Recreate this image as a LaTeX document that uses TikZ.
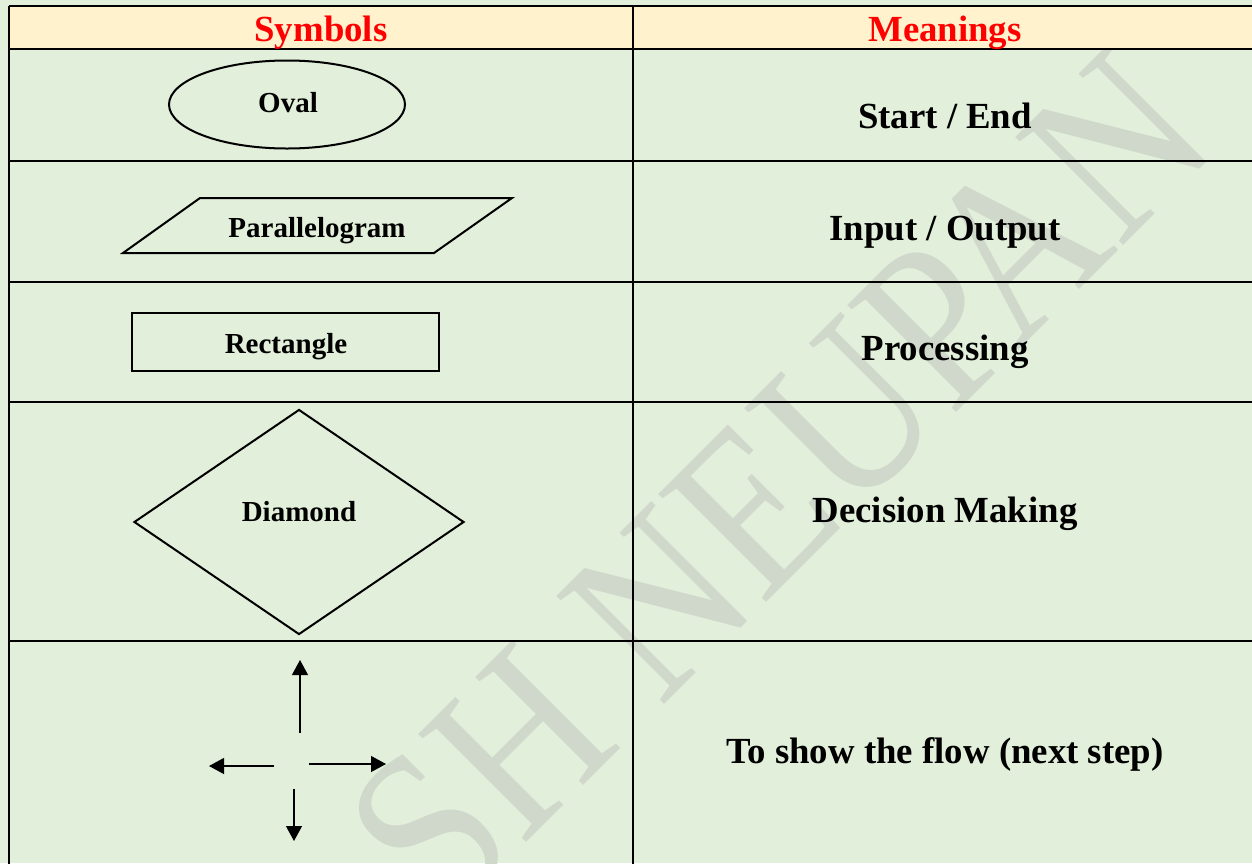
\documentclass[tikz,border=0pt]{standalone}
\usepackage{fontspec}
\usepackage{graphicx}
\setmainfont{Liberation Serif}
\usetikzlibrary{arrows.meta,shapes.geometric}

\definecolor{pagegreen}{RGB}{226,239,218}
\definecolor{headyellow}{RGB}{255,242,204}
\definecolor{markgray}{RGB}{208,216,204}
\definecolor{headred}{RGB}{255,0,0}

\begin{document}
\begin{tikzpicture}[x=0.5pt,y=-0.5pt,
  rule/.style={line width=1pt,black},
  outerrule/.style={line width=1.4pt,black},
  outline/.style={draw=black,line width=1pt,inner sep=0pt},
  headtext/.style={anchor=base,inner sep=0pt,text=headred,font=\fontsize{18.4}{22}\selectfont\bfseries},
  meantext/.style={anchor=base,inner sep=0pt,font=\fontsize{18.4}{22}\selectfont\bfseries},
  symtext/.style={anchor=base,inner sep=0pt,font=\fontsize{14.5}{17}\selectfont\bfseries},
  flowarrow/.style={line width=0.6pt,-{Triangle[length=7.5pt,width=8pt]}}
]
\useasboundingbox (0,0) rectangle (1252,863);
\clip (0,0) rectangle (1252,863);

% page colour
\fill[pagegreen] (0,0) rectangle (1252,863);

% watermark behind the table
\node[rotate=45,anchor=base west,inner sep=0pt,text=markgray,
      font=\fontsize{116.5}{120}\selectfont] (mark) at (443.5,925.5)
      {\scalebox{0.86}[1]{SH NEUPAN}};

% header shading
\fill[headyellow] (9,6) rectangle (1257,49);

% table rules
\draw[rule] (9,6) -- (1257,6);
\draw[rule] (9,49) -- (1257,49);
\draw[rule] (9,161) -- (1257,161);
\draw[rule] (9,282) -- (1257,282);
\draw[rule] (9,402) -- (1257,402);
\draw[rule] (9,641) -- (1257,641);
\draw[outerrule] (9,5.5) -- (9,870);
\draw[rule] (633,6) -- (633,870);
\draw[rule] (1257,6) -- (1257,870);

% header texts
\node[headtext] (hsym) at (321,41) {Symbols};
\node[headtext] (hmean) at (945,41) {Meanings};

% symbol shapes
\node[outline,ellipse,minimum width=118pt,minimum height=44pt] (ovalshape) at (287,104.5) {};
\draw[line width=1pt,line join=miter] (123,253) -- (434,253) -- (512,198) -- (200,198) -- cycle;
\node[outline,rectangle,minimum width=153.5pt,minimum height=29pt] (rectshape) at (285.5,342) {};
\node[outline,diamond,minimum width=165pt,minimum height=112.5pt] (diashape) at (299,522) {};

% symbol labels
\node[symtext] (tov) at (288,112) {Oval};
\node[symtext] (tpar) at (317,237) {Parallelogram};
\node[symtext] (trec) at (286,353) {Rectangle};
\node[symtext] (tdia) at (299,521) {Diamond};

% flow arrows
\coordinate (upfrom) at (300,733);
\coordinate (upto) at (300,660);
\coordinate (leftfrom) at (274,766);
\coordinate (leftto) at (209,766);
\coordinate (rightfrom) at (309,764);
\coordinate (rightto) at (386,764);
\coordinate (downfrom) at (294,789);
\coordinate (downto) at (294,841);
\draw[flowarrow] (upfrom) -- (upto);
\draw[flowarrow] (leftfrom) -- (leftto);
\draw[flowarrow] (rightfrom) -- (rightto);
\draw[flowarrow] (downfrom) -- (downto);

% meanings
\node[meantext] (mstart) at (945,128) {Start / End};
\node[meantext] (mio) at (945,240) {Input / Output};
\node[meantext] (mproc) at (945,360) {Processing};
\node[meantext] (mdec) at (945,522) {Decision Making};
\node[meantext] (mflow) at (945,763) {To show the flow (next step)};
\end{tikzpicture}
\end{document}
